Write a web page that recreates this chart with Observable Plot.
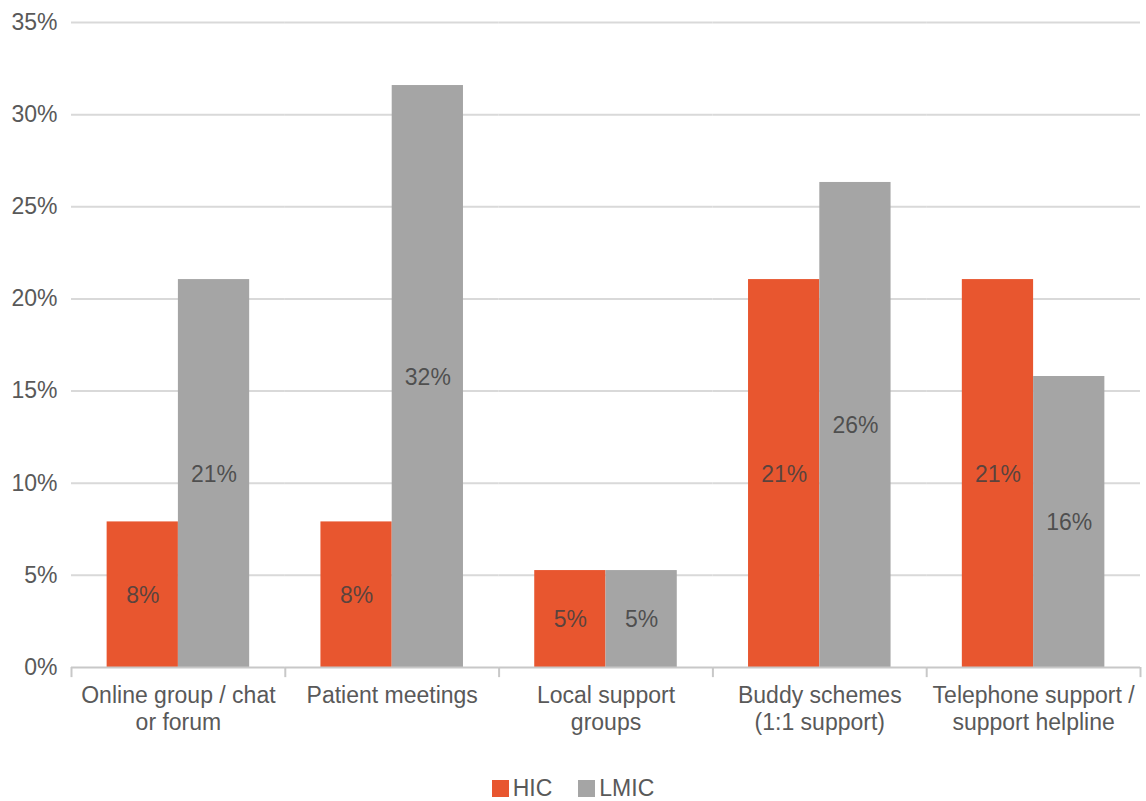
<!DOCTYPE html>
<html>
<head>
<meta charset="utf-8">
<script src="https://cdn.jsdelivr.net/npm/d3@7"></script>
<script src="https://cdn.jsdelivr.net/npm/@observablehq/plot@0.6"></script>
<style>
  body { margin: 0; background: #fff; font-family: "Liberation Sans", Arial, sans-serif; overflow: hidden; }
  #chart svg { display: block; }
  #legend { display: flex; justify-content: center; align-items: center; gap: 26px; padding-top: 17px; font-size: 23px; line-height: 22px; color: #595959; }
  #legend .item { display: flex; align-items: center; gap: 4px; }
  #legend .sw { width: 17px; height: 17px; display: inline-block; }
</style>
</head>
<body>
<div id="chart"></div>
<div id="legend"></div>
<script>
const categories = ["Online group / chat\nor forum", "Patient meetings", "Local support\ngroups", "Buddy schemes\n(1:1 support)", "Telephone support /\nsupport helpline"];
const series = ["HIC", "LMIC"];
const hicValues = [7.9, 7.9, 5.26, 21.05, 21.05];
const lmicValues = [21.05, 31.58, 5.26, 26.32, 15.79];
const yTicks = [0, 5, 10, 15, 20, 25, 30, 35];
const colors = ["#E8562F", "#A5A5A5"];

const data = [];
categories.forEach((c, i) => {
  data.push({category: c, series: "HIC", value: hicValues[i]});
  data.push({category: c, series: "LMIC", value: lmicValues[i]});
});

const width = 1146, marginLeft = 71, marginRight = 6;
const facetW = (width - marginLeft - marginRight) / categories.length;
const step = facetW / 3;

const chart = Plot.plot({
  width, height: 760,
  marginLeft, marginRight, marginTop: 22, marginBottom: 93,
  style: {fontFamily: "'Liberation Sans', Arial, sans-serif", fontSize: "23px", color: "#595959", background: "#fff"},
  fx: {domain: categories, padding: 0, round: false, label: null},
  x: {domain: series, paddingInner: 0, paddingOuter: 0.5, round: false, axis: null},
  y: {domain: [0, 35], label: null},
  color: {domain: series, range: colors},
  marks: [
    Plot.gridY(yTicks.filter(t => t > 0), {stroke: "#D9D9D9", strokeOpacity: 1, strokeWidth: 2}),
    Plot.axisY(yTicks, {tickSize: 0, tickPadding: 14, tickFormat: d => d + "%", fontSize: 23, fill: "#595959", label: null}),
    Plot.axisFx({anchor: "bottom", tickSize: 0, tickPadding: 16, lineHeight: 1.17, fontSize: 23, fill: "#595959", label: null}),
    Plot.barY(data, {fx: "category", x: "series", y: "value", fill: "series"}),
    Plot.ruleY([0], {stroke: "#C8C8C8", strokeWidth: 2}),
    Plot.ruleX(categories, {fx: d => d, x: () => "HIC", y1: 0, y2: -0.55, dx: -step, stroke: "#C8C8C8", strokeWidth: 2}),
    Plot.ruleX([categories[categories.length - 1]], {fx: d => d, x: () => "LMIC", y1: 0, y2: -0.55, dx: step, stroke: "#C8C8C8", strokeWidth: 2}),
    Plot.text(data, {fx: "category", x: "series", y: d => d.value / 2, dy: 1, text: d => Math.round(d.value) + "%", fill: "#404040", fillOpacity: 0.85, fontSize: 23})
  ]
});
document.getElementById("chart").append(chart);

const legend = document.getElementById("legend");
series.forEach((s, i) => {
  const item = document.createElement("span");
  item.className = "item";
  const sw = document.createElement("span");
  sw.className = "sw";
  sw.style.background = colors[i];
  item.append(sw, document.createTextNode(s));
  legend.append(item);
});
</script>
</body>
</html>
